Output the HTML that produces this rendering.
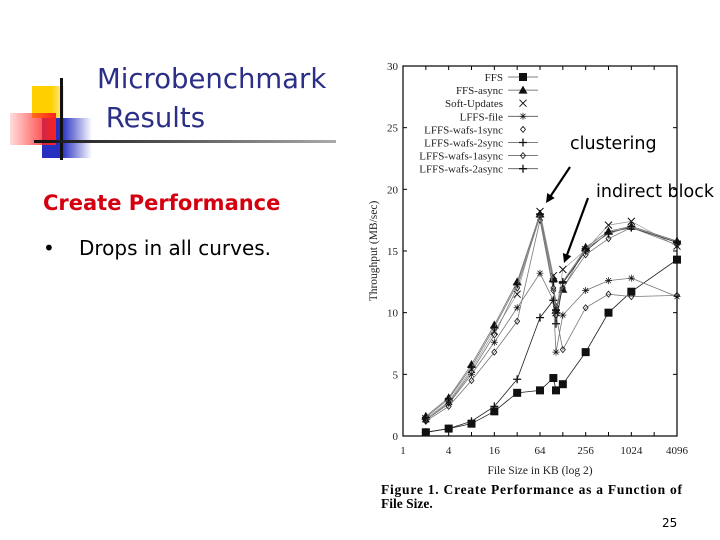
<!DOCTYPE html>
<html><head><meta charset="utf-8"><style>
body{margin:0;width:720px;height:540px;background:#fff;overflow:hidden;position:relative;font-family:"DejaVu Sans","Liberation Sans",sans-serif}
.t{position:absolute;white-space:nowrap}
</style></head><body>
<div>
<div style="position:absolute;left:32px;top:86px;width:32px;height:32px;background:linear-gradient(90deg,#ffd000 60%,#fff0a0)"></div>
<div style="position:absolute;left:42px;top:118px;width:50px;height:40px;background:linear-gradient(90deg,#2830c0 40%,rgba(40,48,192,0))"></div>
<div style="position:absolute;left:10px;top:113px;width:46px;height:32px;background:linear-gradient(90deg,rgba(255,80,80,0.2),#ff2020)"></div>
<div style="position:absolute;left:60px;top:78px;width:3px;height:82px;background:#111"></div>
<div style="position:absolute;left:34px;top:140px;width:302px;height:3px;background:linear-gradient(90deg,#111,#aaa)"></div>
</div>
<div class="t" style="left:97px;top:60px;font-size:27.5px;line-height:39px;color:#2b2f86">Microbenchmark<br>&nbsp;Results</div>
<div class="t" style="left:43px;top:191px;font-size:21px;font-weight:bold;color:#d40010;font-family:'DejaVu Sans',sans-serif">Create Performance</div>
<div class="t" style="left:43px;top:236px;font-size:20px">•</div>
<div class="t" style="left:79px;top:236px;font-size:20px">Drops in all curves.</div>
<div class="t" style="left:662px;top:516px;font-size:12px">25</div>
<svg id="chart" width="720" height="540" style="position:absolute;left:0;top:0" font-family="Liberation Serif, serif"></svg>
<script>
const xVals=[2,4,8,16,32,64,96,104,128,256,512,1024,4096];
const seriesNames=["FFS","FFS-async","Soft-Updates","LFFS-file","LFFS-wafs-1sync","LFFS-wafs-2sync","LFFS-wafs-1async","LFFS-wafs-2async"];
const ffs=[0.3,0.6,1.0,2.0,3.5,3.7,4.7,3.7,4.2,6.8,10,11.7,14.3];
const ffsAsync=[1.6,3.1,5.8,9.0,12.5,18.0,12.8,10.2,11.9,15.3,16.6,17.0,15.8];
const softUpdates=[1.4,2.8,5.4,8.5,11.5,18.2,13.0,10.0,13.5,15.1,17.1,17.4,15.4];
const lfsFile=[1.3,2.6,5.0,7.6,10.4,13.2,11.0,6.8,9.8,11.8,12.6,12.8,11.3];
const wafs1sync=[1.2,2.4,4.5,6.8,9.3,17.5,11.8,9.8,7.0,10.4,11.5,11.3,11.4];
const wafs2sync=[0.3,0.6,1.2,2.4,4.6,9.6,11.0,9.1,12.4,15.0,16.5,16.9,15.7];
const wafs1async=[1.3,2.7,5.2,8.2,12.0,17.8,12.0,10.5,12.0,14.7,16.0,16.9,15.5];
const wafs2async=[1.5,3.0,5.6,8.8,12.3,18.0,12.5,10.2,12.5,15.2,16.4,17.0,15.8];
const yTicks=[0,5,10,15,20,25,30];
const xTicks=[1,4,16,64,256,1024,4096];
const markers=["square","triangle","x","star","diamond","plus","diamond","plus"];
const allSeries=[ffs,ffsAsync,softUpdates,lfsFile,wafs1sync,wafs2sync,wafs1async,wafs2async];
const X0=403,X1=677,Y0=436,Y1=66;
const sx=v=>X0+Math.log2(v)/12*(X1-X0);
const sy=v=>Y0-v/30*(Y0-Y1);
const svg=document.getElementById('chart');
const NS="http://www.w3.org/2000/svg";
function mk(tag,a,parent){const e=document.createElementNS(NS,tag);for(const k in a)e.setAttribute(k,a[k]);(parent||svg).appendChild(e);return e;}
function marker(type,x,y,g){
 const c="#111";
 if(type==="square")return mk('rect',{x:x-4,y:y-4,width:8,height:8,fill:c},g);
 if(type==="triangle")return mk('path',{d:`M${x},${y-4.5}L${x+4.5},${y+3.5}L${x-4.5},${y+3.5}Z`,fill:c},g);
 if(type==="x")return mk('path',{d:`M${x-3.5},${y-3.5}L${x+3.5},${y+3.5}M${x+3.5},${y-3.5}L${x-3.5},${y+3.5}`,stroke:c,'stroke-width':1},g);
 if(type==="plus")return mk('path',{d:`M${x-4},${y}L${x+4},${y}M${x},${y-4}L${x},${y+4}`,stroke:c,'stroke-width':1.3},g);
 if(type==="diamond")return mk('path',{d:`M${x},${y-3}L${x+2.5},${y}L${x},${y+3}L${x-2.5},${y}Z`,fill:'none',stroke:c,'stroke-width':0.8},g);
 return mk('path',{d:`M${x-3.5},${y}L${x+3.5},${y}M${x},${y-3.5}L${x},${y+3.5}M${x-2.5},${y-2.5}L${x+2.5},${y+2.5}M${x+2.5},${y-2.5}L${x-2.5},${y+2.5}`,stroke:c,'stroke-width':0.7},g);
}
const frame=mk('rect',{x:X0,y:Y1,width:X1-X0,height:Y0-Y1,fill:'none',stroke:'#000','stroke-width':1.2});


yTicks.forEach(v=>{
 const t=mk('text',{x:X0-5,y:sy(v)+4,'font-size':11,'text-anchor':'end',fill:'#222'});t.textContent=v;
 
 
 mk('line',{x1:X0,x2:X0+4,y1:sy(v),y2:sy(v),stroke:'#000'});
 mk('line',{x1:X1,x2:X1-4,y1:sy(v),y2:sy(v),stroke:'#000'});
});
xTicks.forEach(v=>{
 const t=mk('text',{x:sx(v),y:Y0+18,'font-size':11,'text-anchor':'middle',fill:'#222'});t.textContent=v;
 
 
});
for(let i=0;i<=12;i++){const x=X0+i/12*(X1-X0);mk('line',{x1:x,x2:x,y1:Y0,y2:Y0-4,stroke:'#000'});mk('line',{x1:x,x2:x,y1:Y1,y2:Y1+4,stroke:'#000'});}
const yt=mk('text',{x:0,y:0,'font-size':11.5,'text-anchor':'middle',transform:`translate(377,${(Y0+Y1)/2}) rotate(-90)`,fill:'#222'});yt.textContent="Throughput (MB/sec)";


const xt=mk('text',{x:(X0+X1)/2,y:Y0+38,'font-size':11.5,'text-anchor':'middle',fill:'#222'});xt.textContent="File Size in KB (log 2)";


allSeries.forEach((vals,si)=>{
 const g=mk('g',{});
 
 
 if(si!==2){mk('polyline',{points:vals.map((v,i)=>sx(xVals[i])+','+sy(v)).join(' '),fill:'none',stroke:si===0||si===5?'#222':'#777','stroke-width':0.8},g);}
 else{mk('polyline',{points:vals.map((v,i)=>sx(xVals[i])+','+sy(v)).join(' '),fill:'none',stroke:'#999','stroke-width':0.7},g);}
 vals.forEach((v,i)=>marker(markers[si],sx(xVals[i]),sy(v),g));
 const ly=77+si*13.1;
 const lt=mk('text',{x:503,y:ly+4,'font-size':11,'text-anchor':'end',fill:'#222'});lt.textContent=seriesNames[si];
 
 
 if(si!==2&&si!==4)mk('line',{x1:508,x2:538,y1:ly,y2:ly,stroke:'#555','stroke-width':0.8});
 marker(markers[si],523,ly);
});
function arrow(x1,y1,x2,y2,name){
 const g=mk('g',{});
 
 
 mk('line',{x1,y1,x2:x2+(x1-x2)*0.12,y2:y2+(y1-y2)*0.12,stroke:'#000','stroke-width':2.2},g);
 const a=Math.atan2(y2-y1,x2-x1),L=9,w=4.5;
 const bx=x2-L*Math.cos(a),by=y2-L*Math.sin(a);
 mk('path',{d:`M${x2},${y2}L${bx+w*Math.sin(a)},${by-w*Math.cos(a)}L${bx-w*Math.sin(a)},${by+w*Math.cos(a)}Z`,fill:'#000'},g);
}
arrow(570,167,546,203,'clustering-arrow');
arrow(588,198,564,263,'indirect-block-arrow');
const c1=mk('text',{x:570,y:149,'font-size':17.5,'font-family':'DejaVu Sans, sans-serif',fill:'#000'});c1.textContent="clustering";


const c2=mk('text',{x:596,y:197,'font-size':17.5,'font-family':'DejaVu Sans, sans-serif',fill:'#000'});c2.textContent="indirect block";


const cap=mk('text',{x:381,y:494,'font-size':13.5,'font-weight':'bold',fill:'#000','textLength':301,'lengthAdjust':'spacing'});cap.textContent="Figure 1.  Create Performance as a Function of";


const cap2=mk('text',{x:381,y:508,'font-size':13.5,'font-weight':'bold',fill:'#000'});cap2.textContent="File Size.";


</script>
</body></html>
